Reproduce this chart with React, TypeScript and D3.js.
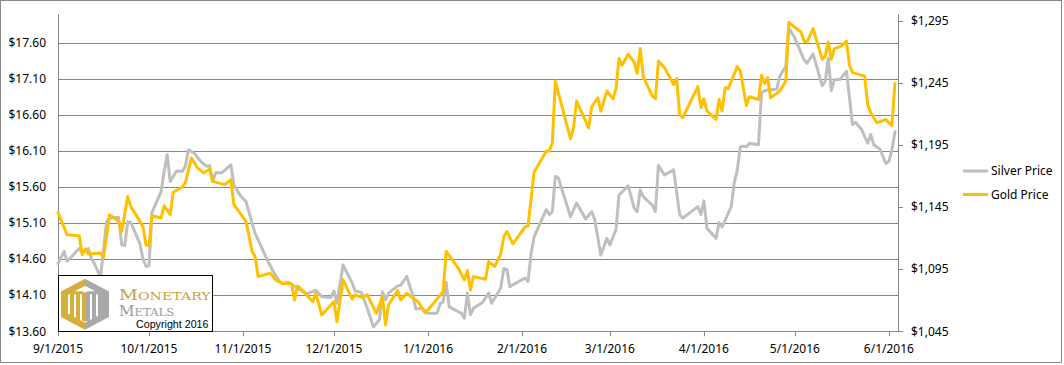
import React from "react";
import * as d3 from "d3";

// ---------- data ----------
const silverDates = [
  "2015-09-01","2015-09-03","2015-09-04","2015-09-08","2015-09-09","2015-09-11","2015-09-12","2015-09-13","2015-09-14","2015-09-15","2015-09-17","2015-09-18","2015-09-20","2015-09-21","2015-09-22","2015-09-23","2015-09-24","2015-09-25","2015-09-28","2015-09-29","2015-09-30",
  "2015-10-01","2015-10-02","2015-10-05","2015-10-06","2015-10-07","2015-10-08","2015-10-10","2015-10-12","2015-10-13","2015-10-14","2015-10-16","2015-10-18","2015-10-20","2015-10-21","2015-10-22","2015-10-23","2015-10-25","2015-10-28","2015-10-29","2015-10-31",
  "2015-11-02","2015-11-04","2015-11-05","2015-11-07","2015-11-09","2015-11-11","2015-11-13","2015-11-14","2015-11-16","2015-11-20","2015-11-22","2015-11-25","2015-11-27","2015-11-30",
  "2015-12-01","2015-12-02","2015-12-04","2015-12-07","2015-12-08","2015-12-10","2015-12-12","2015-12-14","2015-12-16","2015-12-17","2015-12-18","2015-12-19","2015-12-22","2015-12-23","2015-12-25","2015-12-27","2015-12-28","2015-12-30",
  "2016-01-01","2016-01-04","2016-01-05","2016-01-06","2016-01-07","2016-01-08","2016-01-12","2016-01-13","2016-01-14","2016-01-15","2016-01-16","2016-01-19","2016-01-21","2016-01-22","2016-01-25","2016-01-26","2016-01-27","2016-01-28",
  "2016-02-02","2016-02-03","2016-02-04","2016-02-05","2016-02-09","2016-02-10","2016-02-11","2016-02-12","2016-02-13","2016-02-17","2016-02-19","2016-02-22","2016-02-24","2016-02-25","2016-02-27","2016-02-29",
  "2016-03-01","2016-03-03","2016-03-04","2016-03-07","2016-03-09","2016-03-10","2016-03-11","2016-03-12","2016-03-15","2016-03-16","2016-03-17","2016-03-19","2016-03-22","2016-03-24","2016-03-25","2016-03-30","2016-03-31",
  "2016-04-01","2016-04-02","2016-04-05","2016-04-06","2016-04-07","2016-04-10","2016-04-11","2016-04-12","2016-04-13","2016-04-14","2016-04-15","2016-04-16","2016-04-19","2016-04-20","2016-04-21","2016-04-22","2016-04-25","2016-04-26","2016-04-28","2016-04-29",
  "2016-05-01","2016-05-04","2016-05-05","2016-05-07","2016-05-10","2016-05-11","2016-05-12","2016-05-13","2016-05-14","2016-05-16","2016-05-18","2016-05-20","2016-05-21","2016-05-23","2016-05-25","2016-05-26","2016-05-27","2016-05-29","2016-05-31",
  "2016-06-01","2016-06-02","2016-06-03",
];
const silverValues = [
  14.54,14.71,14.57,14.75,14.69,14.75,14.61,14.54,14.45,14.34,15.12,15.17,15.18,15.18,14.80,14.79,15.12,15.11,14.82,14.61,14.50,
  14.51,15.25,15.54,15.82,16.05,15.68,15.82,15.82,15.89,16.12,16.07,15.96,15.89,15.90,15.68,15.80,15.80,15.91,15.63,15.49,
  15.40,15.10,14.96,14.78,14.59,14.43,14.29,14.26,14.28,14.17,14.12,14.17,14.08,14.07,
  14.16,13.99,14.52,14.27,14.16,14.14,13.92,13.66,13.76,14.15,14.04,14.13,14.23,14.24,14.36,14.10,13.91,13.92,
  13.85,13.85,13.98,14.01,14.28,13.94,13.85,13.78,14.13,13.83,13.92,14.00,14.13,13.99,14.20,14.47,14.46,14.22,
  14.34,14.29,14.68,14.91,15.29,15.22,15.26,15.75,15.73,15.19,15.38,15.16,15.26,15.15,14.66,14.89,
  14.80,15.01,15.49,15.62,15.31,15.26,15.56,15.47,15.35,15.26,15.90,15.77,15.84,15.22,15.17,15.33,15.22,
  15.41,15.03,14.89,15.11,15.05,15.33,15.66,15.84,16.16,16.17,16.16,16.21,16.19,16.91,16.94,16.95,16.96,17.14,17.28,17.81,
  17.67,17.37,17.32,17.45,17.01,17.07,17.39,16.94,17.09,17.10,17.21,16.47,16.50,16.40,16.21,16.33,16.19,16.13,15.93,
  15.96,16.12,16.37,
];

const goldDates = [
  "2015-09-01","2015-09-04","2015-09-08","2015-09-09","2015-09-10","2015-09-11","2015-09-15","2015-09-16","2015-09-18","2015-09-21","2015-09-22","2015-09-24","2015-09-25","2015-09-29","2015-09-30",
  "2015-10-01","2015-10-02","2015-10-05","2015-10-06","2015-10-08","2015-10-09","2015-10-12","2015-10-13","2015-10-15","2015-10-17","2015-10-19","2015-10-21","2015-10-22","2015-10-26","2015-10-28","2015-10-29",
  "2015-11-02","2015-11-04","2015-11-05","2015-11-06","2015-11-10","2015-11-12","2015-11-14","2015-11-17","2015-11-18","2015-11-19","2015-11-21","2015-11-24","2015-11-25","2015-11-27",
  "2015-12-01","2015-12-02","2015-12-04","2015-12-07","2015-12-08","2015-12-10","2015-12-12","2015-12-15","2015-12-17","2015-12-18","2015-12-19","2015-12-22","2015-12-23","2015-12-25","2015-12-29","2015-12-31",
  "2016-01-01","2016-01-06","2016-01-07","2016-01-11","2016-01-13","2016-01-14","2016-01-15","2016-01-16","2016-01-20","2016-01-21","2016-01-23","2016-01-25","2016-01-26","2016-01-27","2016-01-29",
  "2016-02-02","2016-02-03","2016-02-05","2016-02-09","2016-02-10","2016-02-11","2016-02-12","2016-02-17","2016-02-18","2016-02-19","2016-02-23","2016-02-24","2016-02-26","2016-02-27","2016-02-29",
  "2016-03-02","2016-03-03","2016-03-04","2016-03-05","2016-03-07","2016-03-09","2016-03-10","2016-03-11","2016-03-12","2016-03-15","2016-03-16","2016-03-17","2016-03-19","2016-03-22","2016-03-23","2016-03-24","2016-03-25","2016-03-30","2016-03-31",
  "2016-04-01","2016-04-02","2016-04-05","2016-04-06","2016-04-07","2016-04-08","2016-04-09","2016-04-12","2016-04-13","2016-04-15","2016-04-16","2016-04-19","2016-04-20","2016-04-21","2016-04-22","2016-04-23","2016-04-26","2016-04-28","2016-04-29",
  "2016-05-03","2016-05-04","2016-05-05","2016-05-07","2016-05-10","2016-05-11","2016-05-12","2016-05-13","2016-05-14","2016-05-16","2016-05-18","2016-05-19","2016-05-20","2016-05-24","2016-05-25","2016-05-26","2016-05-28","2016-05-31",
  "2016-06-01","2016-06-02","2016-06-03",
];
const goldValues = [
  1140.6,1122.7,1121.9,1106.5,1111.1,1107.3,1107.9,1104.4,1138.8,1133.4,1125.3,1153.5,1145.5,1129.4,1114.6,
  1113.8,1138.0,1136.1,1146.0,1138.8,1156.8,1161.1,1164.4,1184.5,1176.5,1172.4,1175.6,1165.6,1163.0,1167.0,1146.9,
  1133.4,1109.2,1105.2,1089.0,1091.8,1085.8,1083.7,1083.1,1070.2,1081.5,1076.9,1068.9,1075.6,1058.1,
  1068.9,1052.7,1086.4,1070.8,1074.3,1072.4,1074.3,1059.5,1072.9,1050.1,1066.2,1077.7,1070.2,1075.6,1068.1,1060.0,
  1062.2,1076.9,1109.2,1095.8,1086.4,1093.9,1078.3,1089.0,1086.9,1101.1,1097.1,1107.3,1120.8,1125.3,1115.4,
  1128.9,1129.9,1172.9,1189.8,1189.8,1196.6,1246.3,1199.8,1208.7,1230.2,1208.7,1225.6,1232.9,1222.1,1238.2,
  1232.1,1240.2,1264.4,1259.0,1267.8,1261.6,1252.5,1272.4,1249.8,1234.2,1232.1,1262.4,1257.1,1243.6,1248.5,1219.4,1216.8,1241.8,1224.8,
  1232.1,1222.1,1215.4,1231.5,1222.1,1241.0,1240.2,1257.9,1254.4,1226.7,1233.7,1231.5,1250.9,1244.4,1249.0,1232.9,1238.2,1246.3,1293.4,
  1285.8,1278.5,1277.7,1288.5,1263.8,1266.5,1277.7,1263.8,1272.4,1274.0,1278.5,1259.0,1253.1,1250.3,1227.5,1220.8,1212.7,1215.4,
  1212.7,1210.6,1244.4,
];

const xTickDates = ["2015-09-01","2015-10-01","2015-11-01","2015-12-01","2016-01-01","2016-02-01","2016-03-01","2016-04-01","2016-05-01","2016-06-01"];
const leftTicks = [13.6, 14.1, 14.6, 15.1, 15.6, 16.1, 16.6, 17.1, 17.6];
const rightTicks = [1045, 1095, 1145, 1195, 1245, 1295];
const seriesNames = ["Silver Price", "Gold Price"];

// ---------- layout ----------
const W = 1064, H = 365;
const L = 58, R = 898, T = 14.3, B = 331.3;
const SILVER = "#BFBFBF";
const GOLD = "#FFC000";
const GRID = "#878787";
const FONT = "'Noto Sans', 'DejaVu Sans', sans-serif";

const parse = d3.timeParse("%Y-%m-%d");

export default function App() {
  const x = d3.scaleTime().domain([new Date(2015, 8, 1), new Date(2016, 5, 4)]).range([L, R]);
  const yL = d3.scaleLinear().domain([13.6, 18.0]).range([B, T]);
  const yR = d3.scaleLinear().domain([1045, 1300]).range([B, T]);

  const silver = silverDates.map((d, i) => ({ d: parse(d) as Date, v: silverValues[i] }));
  const gold = goldDates.map((d, i) => ({ d: parse(d) as Date, v: goldValues[i] }));

  const silverLine = d3.line<{ d: Date; v: number }>().x(p => x(p.d)).y(p => yL(p.v));
  const goldLine = d3.line<{ d: Date; v: number }>().x(p => x(p.d)).y(p => yR(p.v));

  const fmtL = (v: number) => "$" + v.toFixed(2);
  const fmtR = (v: number) => "$" + d3.format(",")(v);
  const fmtX = (d: Date) => `${d.getMonth() + 1}/${d.getDate()}/${d.getFullYear()}`;

  // logo hexagon
  const hcx = 85, hcy = 304.3, hrx = 24, hry = 25.5;
  const hex = [
    [hcx, hcy - hry], [hcx + hrx, hcy - hry / 2], [hcx + hrx, hcy + hry / 2],
    [hcx, hcy + hry], [hcx - hrx, hcy + hry / 2], [hcx - hrx, hcy - hry / 2],
  ].map(p => p.join(",")).join(" ");
  const ihrx = 17, ihry = 18.5;
  const innerHex = [
    [hcx, hcy - ihry], [hcx + ihrx, hcy - ihry / 2], [hcx + ihrx, hcy + ihry / 2],
    [hcx, hcy + ihry], [hcx - ihrx, hcy + ihry / 2], [hcx - ihrx, hcy - ihry / 2],
  ].map(p => p.join(",")).join(" ");

  return (
    <svg width={W} height={H} style={{ position: "absolute", left: 0, top: 0, background: "#fff" }} fontFamily={FONT}>
      <rect x={0.5} y={0.5} width={1061} height={362} fill="#fff" stroke={GRID} strokeWidth={1} />

      {/* gridlines */}
      {leftTicks.map(t => (
        <line key={t} x1={L} x2={R} y1={Math.round(yL(t)) + 0.5} y2={Math.round(yL(t)) + 0.5} stroke={GRID} strokeWidth={1} />
      ))}
      {/* axes */}
      <line x1={L + 0.5} x2={L + 0.5} y1={T} y2={B} stroke={GRID} />
      <line x1={R + 0.5} x2={R + 0.5} y1={T} y2={B} stroke={GRID} />
      {rightTicks.map(t => (
        <line key={t} x1={R} x2={R + 5} y1={Math.round(yR(t)) + 0.5} y2={Math.round(yR(t)) + 0.5} stroke={GRID} />
      ))}
      {xTickDates.map(s => {
        const xx = Math.round(x(parse(s) as Date)) + 0.5;
        return <line key={s} x1={xx} x2={xx} y1={B} y2={B + 5} stroke={GRID} />;
      })}

      {/* left labels */}
      {leftTicks.map(t => (
        <text key={t} x={46} y={yL(t)} dy="0.35em" textAnchor="end" fontSize={12} fill="#000">{fmtL(t)}</text>
      ))}
      {/* right labels */}
      {rightTicks.map(t => (
        <text key={t} x={911} y={yR(t)} dy="0.35em" textAnchor="start" fontSize={12} fill="#000">{fmtR(t)}</text>
      ))}
      {/* x labels */}
      {xTickDates.map(s => {
        const d = parse(s) as Date;
        return <text key={s} x={x(d)} y={349} dy="0.35em" textAnchor="middle" fontSize={12} fill="#000">{fmtX(d)}</text>;
      })}

      {/* series */}
      <path d={silverLine(silver) || ""} fill="none" stroke={SILVER} strokeWidth={3} strokeLinejoin="round" strokeLinecap="round" />
      <path d={goldLine(gold) || ""} fill="none" stroke={GOLD} strokeWidth={3} strokeLinejoin="round" strokeLinecap="round" />

      {/* legend */}
      <line x1={963} x2={988} y1={171} y2={171} stroke={SILVER} strokeWidth={3} />
      <text x={991} y={171} dy="0.35em" fontSize={12} fill="#000">{seriesNames[0]}</text>
      <line x1={963} x2={988} y1={194.5} y2={194.5} stroke={GOLD} strokeWidth={3} />
      <text x={991} y={194.5} dy="0.35em" fontSize={12} fill="#000">{seriesNames[1]}</text>

      {/* logo box */}
      <rect x={58.5} y={275.5} width={154} height={56} fill="#fff" stroke="#000" strokeWidth={1} />
      <defs>
        <clipPath id="hexclip"><polygon points={hex} /></clipPath>
      </defs>
      <g clipPath="url(#hexclip)">
        <rect x={hcx - hrx} y={hcy - hry} width={hrx} height={hry * 2} fill="#D6AE3C" />
        <rect x={hcx} y={hcy - hry} width={hrx} height={hry * 2} fill="#A9A9A9" />
        <polygon points={innerHex} fill="#fff" />
        {[-13, -7, -1].map(o => (
          <rect key={o} x={hcx + o - 2} y={hcy - 12} width={4} height={29} fill="#D6AE3C" />
        ))}
        {[3, 9, 15].map(o => (
          <rect key={o} x={hcx + o - 2} y={hcy - 12} width={4} height={29} fill="#A9A9A9" />
        ))}
        <rect x={hcx - 14} y={hcy - 13} width={12} height={3} fill="#D6AE3C" />
        <rect x={hcx + 2} y={hcy - 13} width={12} height={3} fill="#A9A9A9" />
      </g>
      <text x={118.7} y={300.3} fontFamily="'DejaVu Serif', 'Liberation Serif', serif" fill="#C9A23A" textLength={92} lengthAdjust="spacingAndGlyphs">
        <tspan fontSize={14}>M</tspan><tspan fontSize={10.5}>ONETARY</tspan>
      </text>
      <text x={118.7} y={316} fontFamily="'DejaVu Serif', 'Liberation Serif', serif" fill="#9C9C9C" textLength={55.6} lengthAdjust="spacingAndGlyphs">
        <tspan fontSize={14}>M</tspan><tspan fontSize={10.5}>ETALS</tspan>
      </text>
      <text x={136} y={327.5} fontFamily="'Liberation Sans', Arial, sans-serif" fontSize={10.5} fill="#000" textLength={72.5} lengthAdjust="spacingAndGlyphs">Copyright 2016</text>
    </svg>
  );
}
